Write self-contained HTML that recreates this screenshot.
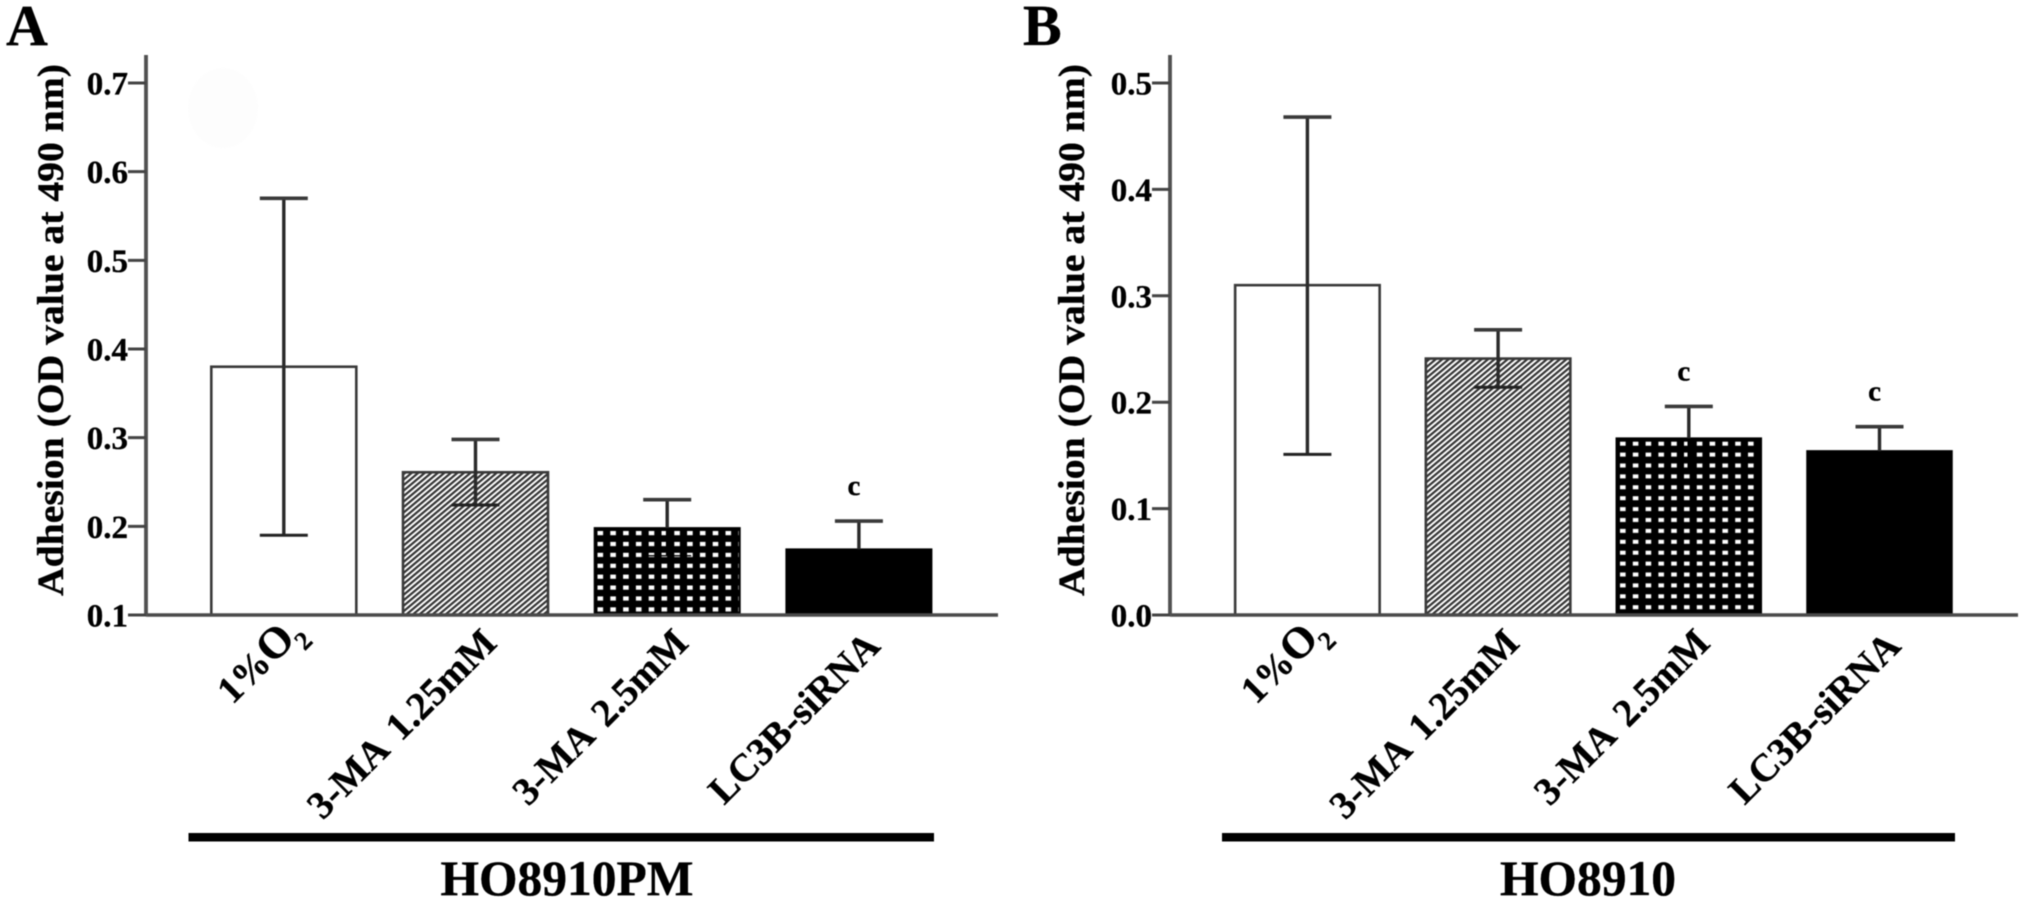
<!DOCTYPE html>
<html>
<head>
<meta charset="utf-8">
<title>Adhesion OD value bar charts</title>
<style>
html,body{margin:0;padding:0;background:#fff;}
body{width:2031px;height:904px;overflow:hidden;}
svg{display:block;filter:blur(0.45px);}
text{font-family:"Liberation Serif",serif;font-weight:bold;fill:#000;stroke:#000;stroke-width:0.35px;}
</style>
</head>
<body>
<svg id="figure" width="2031" height="904" viewBox="0 0 2031 904" xmlns="http://www.w3.org/2000/svg">
  <defs>
    <pattern id="hatch" patternUnits="userSpaceOnUse" width="4.2" height="4.2" patternTransform="rotate(-40)">
      <rect width="4.2" height="4.2" fill="#fff"/>
      <rect width="4.2" height="2.2" fill="#333"/>
    </pattern>
    <pattern id="dots-a" patternUnits="userSpaceOnUse" width="12.8" height="10.9" x="594" y="527.5">
      <rect width="12.8" height="10.9" fill="#000"/>
      <rect x="3.5" y="3.5" width="5.6" height="4.2" fill="#fff"/>
    </pattern>
    <pattern id="dots-b" patternUnits="userSpaceOnUse" width="12.8" height="10.9" x="1616.5" y="438">
      <rect width="12.8" height="10.9" fill="#000"/>
      <rect x="3.5" y="3.7" width="5.6" height="4" fill="#fff"/>
    </pattern>
  </defs>
  <ellipse cx="223" cy="108" rx="35" ry="40" fill="#fdfdfd"/>
  <text x="6" y="45" font-size="58">A</text>
  <text x="1023" y="45" font-size="58">B</text>
  <text transform="translate(63,330) rotate(-90)" text-anchor="middle" font-size="37" textLength="532" lengthAdjust="spacingAndGlyphs">Adhesion (OD value at 490 nm)</text>
  <text transform="translate(1084,330) rotate(-90)" text-anchor="middle" font-size="37" textLength="532" lengthAdjust="spacingAndGlyphs">Adhesion (OD value at 490 nm)</text>
  <rect x="188.5" y="833" width="745.5" height="8.5" fill="#000"/>
  <rect x="1222" y="833" width="733" height="8.5" fill="#000"/>
  <text x="567" y="895" text-anchor="middle" font-size="49.5">HO8910PM</text>
  <text x="1588" y="895" text-anchor="middle" font-size="49.5">HO8910</text>
  <g id="panel-a"></g>
  <g id="panel-b"></g>
</svg>
<script>
const categories = ["1%O2", "3-MA 1.25mM", "3-MA 2.5mM", "LC3B-siRNA"];
const fills = ["#fff", "url(#hatch)", "", "#000"];

const ticksA = [0.1, 0.2, 0.3, 0.4, 0.5, 0.6, 0.7];
const valuesA = [0.38, 0.261, 0.198, 0.174];
const errHighA = [0.57, 0.298, 0.23, 0.206];
const errLowA = [0.19, 0.224, 0.167, 0.142];
const marksA = ["", "", "", "c"];

const ticksB = [0.0, 0.1, 0.2, 0.3, 0.4, 0.5];
const valuesB = [0.31, 0.241, 0.166, 0.154];
const errHighB = [0.468, 0.268, 0.196, 0.177];
const errLowB = [0.151, 0.214, 0.136, 0.131];
const marksB = ["", "", "c", "c"];

const NS = "http://www.w3.org/2000/svg";
function make(tag, attrs, parent) {
  const el = document.createElementNS(NS, tag);
  for (const k in attrs) el.setAttribute(k, attrs[k]);
  parent.appendChild(el);
  return el;
}
function drawPanel(cfg) {
  const root = document.getElementById(cfg.id);
  const yScale = v => cfg.y0 + (v - cfg.domain[0]) * (cfg.y1 - cfg.y0) / (cfg.domain[1] - cfg.domain[0]);
  const xScale = i => cfg.x0 + i * cfg.step;

  cfg.values.forEach((v, i) => {
    const left = xScale(i) - cfg.barW / 2;
    const top = yScale(v);
    const black = i >= 2;
    const bar = make("rect", {
      x: left, y: top, width: cfg.barW, height: cfg.y0 - top,
      fill: i === 2 ? cfg.dots : fills[i],
      stroke: black ? "#000" : "#3a3a3a", "stroke-width": black ? 2 : 2.6
    }, root);
    
    

    const cx = xScale(i);
    const yHi = yScale(cfg.high[i]);
    const yLo = yScale(cfg.low[i]);
    const stemUp = make("line", {x1: cx, x2: cx, y1: yHi, y2: top, stroke: "#2a2a2a", "stroke-width": 3.4}, root);
    
    
    const stemLow = make("line", {x1: cx, x2: cx, y1: top, y2: yLo, stroke: black ? "#000" : "#2a2a2a", "stroke-width": black ? 2.6 : 3.4}, root);
    
    
    const capHi = make("line", {x1: cx - 24, x2: cx + 24, y1: yHi, y2: yHi, stroke: "#3a3a3a", "stroke-width": 3.6}, root);
    
    
    const capLo = make("line", {x1: cx - 24, x2: cx + 24, y1: yLo, y2: yLo, stroke: black ? "#000" : "#222", "stroke-width": black ? 1.2 : 3}, root);
    
    

    if (cfg.marks[i]) {
      const mark = make("text", {x: cx - 5, y: yHi - 26, "text-anchor": "middle", "font-size": 29}, root);
      mark.textContent = cfg.marks[i];
      
      
    }

    const isO2 = /O2$/.test(categories[i]);
    const label = make("text", {
      transform: "translate(" + (cx + (isO2 ? 21 : 23)) + "," + (isO2 ? 633 : (i === 3 ? 648 : 645)) + ") rotate(-45)",
      "text-anchor": "end", "font-size": 39, "word-spacing": 6
    }, root);
    
    
    const m = categories[i].match(/^(.*)O2$/);
    if (m) {
      const a = make("tspan", {"font-size": 38}, label); a.textContent = m[1];
      const b = make("tspan", {"font-size": 44}, label); b.textContent = "O";
      const c = make("tspan", {"font-size": 26, dx: -2, dy: 13}, label); c.textContent = "2";
    } else {
      label.textContent = categories[i];
    }
  });

  const baseline = make("line", {x1: cfg.axisX, x2: cfg.axisEnd, y1: cfg.y0, y2: cfg.y0, stroke: "#4a4a4a", "stroke-width": 3.4}, root);
  
  
  const yAxis = make("line", {x1: cfg.axisX, x2: cfg.axisX, y1: 55, y2: cfg.y0 + 1.5, stroke: "#505050", "stroke-width": 3.8}, root);
  
  

  cfg.ticks.forEach(t => {
    const y = yScale(t);
    const tick = make("line", {x1: cfg.axisX - 18, x2: cfg.axisX, y1: y, y2: y, stroke: "#444", "stroke-width": 3}, root);
    
    
    const lab = make("text", {x: cfg.axisX - 18, y: y + 11.5, "text-anchor": "end", "font-size": 33}, root);
    lab.textContent = t.toFixed(1);
    
    
  });
}

drawPanel({id: "panel-a", domain: [0.1, 0.7], y0: 615, y1: 83, x0: 283.8, step: 191.7, barW: 145,
  axisX: 146, axisEnd: 998, dots: "url(#dots-a)", ticks: ticksA, values: valuesA, high: errHighA, low: errLowA, marks: marksA});
drawPanel({id: "panel-b", domain: [0.0, 0.5], y0: 615, y1: 83, x0: 1307.4, step: 190.7, barW: 144.5,
  axisX: 1170, axisEnd: 2018, dots: "url(#dots-b)", ticks: ticksB, values: valuesB, high: errHighB, low: errLowB, marks: marksB});
</script>
</body>
</html>
